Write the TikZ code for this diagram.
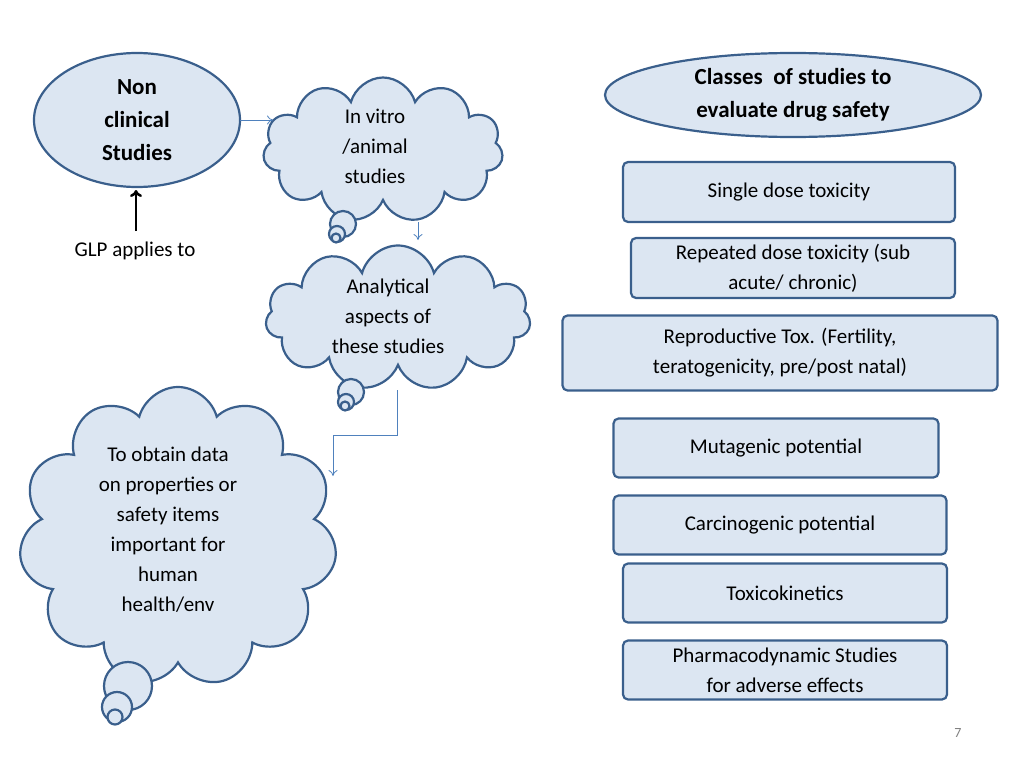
\documentclass[tikz,border=0pt]{standalone}
\usepackage{fontspec}
\setmainfont{Carlito}
\usetikzlibrary{shapes.symbols,shapes.geometric,arrows.meta}
\definecolor{fillb}{HTML}{DCE6F2}
\definecolor{edgeb}{HTML}{3A5F8C}
\definecolor{linkb}{HTML}{4F81BD}
\tikzset{
  x=1pt,y=-1pt,
  boxs/.style={draw=edgeb,fill=fillb,line width=2.2pt,rounded corners=5pt,align=center,font=\fontsize{21}{30}\selectfont},
  cl/.style={cloud,cloud puffs=11,cloud ignores aspect,draw=edgeb,fill=fillb,line width=2.2pt,inner sep=0pt},
  bub/.style={circle,draw=edgeb,fill=fillb,line width=2.2pt,inner sep=0pt},
  tx/.style={align=center,font=\fontsize{21}{30}\selectfont},
  el/.style={ellipse,draw=edgeb,fill=fillb,line width=2.2pt,align=center,inner sep=0pt,font=\fontsize{23}{33}\selectfont\bfseries},
  thin/.style={draw=linkb,line width=0.8pt,-{To[length=6pt,width=9pt]}}
}
\begin{document}
\begin{tikzpicture}
\useasboundingbox (0,0) rectangle (1024,768);
\node[el,minimum width=206,minimum height=134] (nc) at (137,120) {Non\\clinical\\Studies};
\node[el,minimum width=376,minimum height=84] (cl) at (793,95) {Classes\ \ of studies to\\evaluate drug safety};
% clouds
\node[cl,minimum width=240,minimum height=145] (c1) at (383,150) {};
\node[tx] (t1) at (375,146) {In vitro\\/animal\\studies};
\node[bub,minimum size=26] (b11) at (343,224) {};
\node[bub,minimum size=16] (b12) at (337,234) {};
\node[bub,minimum size=9] (b13) at (336,238) {};
\node[cl,minimum width=265,minimum height=145] (c2) at (398,318) {};
\node[tx] (t2) at (388,316) {Analytical\\aspects of\\these studies};
\node[bub,minimum size=26] (b21) at (351,392) {};
\node[bub,minimum size=16] (b22) at (346,402) {};
\node[bub,minimum size=9] (b23) at (345,406) {};
\node[cl,minimum width=318,minimum height=300] (c3) at (178,537) {};
\node[tx] (t3) at (168,530) {To obtain data\\on properties or\\safety items\\important for\\human\\health/env};
\node[bub,minimum size=48] (b31) at (128,686) {};
\node[bub,minimum size=30] (b32) at (117,707) {};
\node[bub,minimum size=15] (b33) at (115,717) {};
% connectors
\coordinate (a1) at (240,120); \coordinate (a2) at (273,120);
\draw[thin] (a1) -- (a2);
\coordinate (d1) at (418,222); \coordinate (d2) at (418,240);
\draw[thin] (d1) -- (d2);
\coordinate (e1) at (397,390); \coordinate (e2) at (333,476);
\draw[thin] (e1) -- (397,435) -- (333,435) -- (e2);
\coordinate (g1) at (136,231); \coordinate (g2) at (136,190);
\draw[line width=2.5pt,-{To[length=7pt,width=12pt]}] (g1) -- (g2);
\node[tx,anchor=center] (glp) at (135,251) {GLP applies to};
% boxes
\node[boxs,minimum width=332,minimum height=60] (r1) at (789,192) {Single dose toxicity};
\node[boxs,minimum width=324,minimum height=60] (r2) at (793,268) {Repeated dose toxicity (sub\\acute/ chronic)};
\node[boxs,minimum width=435,minimum height=75] (r3) at (780,353) {Reproductive Tox. (Fertility,\\teratogenicity, pre/post natal)};
\node[boxs,minimum width=325,minimum height=59] (r4) at (776,448) {Mutagenic potential};
\node[boxs,minimum width=333,minimum height=59] (r5) at (780,525) {Carcinogenic potential};
\node[boxs,minimum width=324,minimum height=59] (r6) at (785,593) {Toxicokinetics};
\node[boxs,minimum width=324,minimum height=59] (r7) at (785,670) {Pharmacodynamic Studies\\for adverse effects};
\node[text=gray,font=\fontsize{14}{16}\selectfont] (pg) at (958,733) {7};
\end{tikzpicture}
\end{document}
